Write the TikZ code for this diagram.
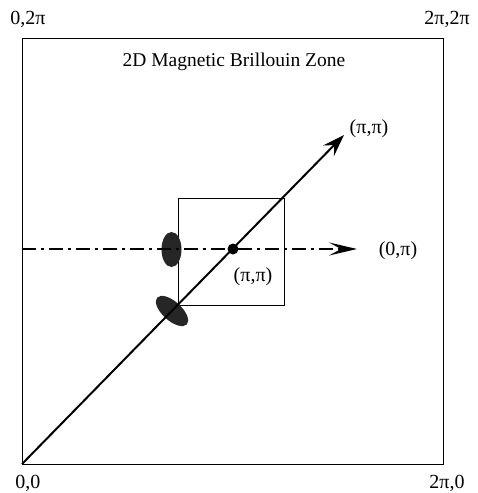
\documentclass[tikz,border=0pt]{standalone}
\usepackage{fontspec}
\setmainfont{Liberation Serif}
\usetikzlibrary{arrows.meta}
\begin{document}
\begin{tikzpicture}[x=1pt,y=-1pt,
  lbl/.style={inner sep=0pt,font=\fontsize{20}{24}\selectfont},
  ttl/.style={inner sep=0pt,font=\fontsize{19.5}{23}\selectfont},
  frame/.style={line width=1.4pt},
  diag/.style={line width=2pt,-{Stealth[length=22pt,width=15pt,inset=8pt]}},
  horiz/.style={line width=1.2pt,dash pattern=on 14pt off 5pt on 3pt off 5pt,-{Stealth[length=28pt,width=13pt,inset=12pt]}},
  spot/.style={fill=black!85}]
\useasboundingbox (0,0) rectangle (478,493);
\node[draw,frame,minimum width=421pt,minimum height=426pt,inner sep=0pt,anchor=north west] (zone) at (22,38) {};
\node[lbl] (tl) at (28,19) {0,2π};
\node[lbl] (tr) at (447,19) {2π,2π};
\node[lbl] (bl) at (28,483) {0,0};
\node[lbl] (br) at (447,483) {2π,0};
\node[ttl] (title) at (234,62) {2D Magnetic Brillouin Zone};
\node[draw,line width=1.1pt,minimum width=106pt,minimum height=107pt,inner sep=0pt,anchor=north west] (inner) at (178,198) {};
\coordinate (origin) at (22,464);
\coordinate (tip) at (344,135);
\coordinate (hstart) at (22,249);
\coordinate (hend) at (357,249);
\fill[spot] (171.5,249.5) ellipse [x radius=10pt,y radius=17.5pt];
\fill[spot,rotate around={-42:(172,311)}] (172,311) ellipse [x radius=20pt,y radius=9.5pt];
\draw[horiz] (hstart) -- (hend);
\draw[diag] (origin) -- (tip);
\node[circle,fill=black,minimum size=11pt,inner sep=0pt] (dot) at (233,249) {};
\node[lbl] (pp1) at (369,129) {(π,π)};
\node[lbl] (op) at (398,251) {(0,π)};
\node[lbl] (pp2) at (253,277) {(π,π)};
\end{tikzpicture}
\end{document}
